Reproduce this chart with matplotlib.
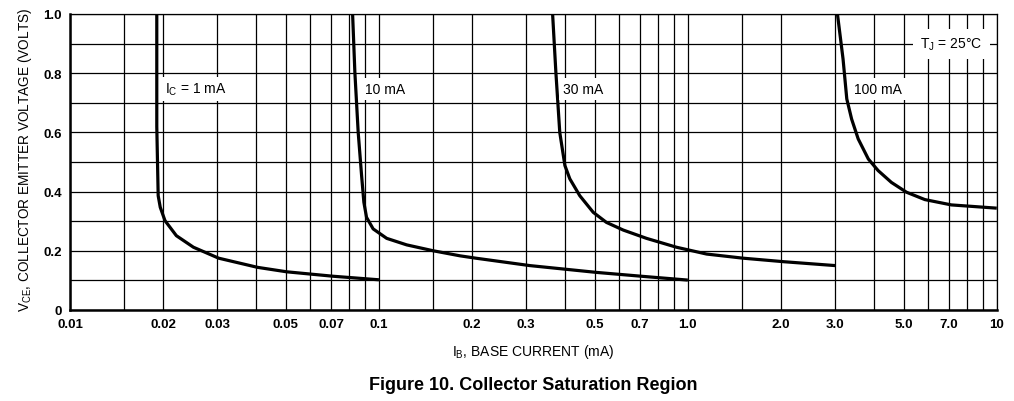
import matplotlib
matplotlib.use('Agg')
import matplotlib.pyplot as plt

plt.rcParams['font.family'] = ['Liberation Sans', 'DejaVu Sans']
plt.rcParams['mathtext.default'] = 'regular'

# curves (IB in mA, VCE in volts)
ib_1ma = [0.0191, 0.0191, 0.0193, 0.0196, 0.0203, 0.0221, 0.0251, 0.0303, 0.0405, 0.0503, 0.0711, 0.1]
vce_1ma = [1.0, 0.62, 0.386, 0.347, 0.302, 0.251, 0.212, 0.175, 0.144, 0.129, 0.114, 0.102]

ib_10ma = [0.0822, 0.0836, 0.0857, 0.0879, 0.0894, 0.0912, 0.0958, 0.106, 0.123, 0.150, 0.183,
           0.206, 0.308, 0.506, 0.726, 1.0]
vce_10ma = [1.0, 0.803, 0.600, 0.454, 0.364, 0.313, 0.274, 0.242, 0.220, 0.200, 0.183,
            0.175, 0.150, 0.127, 0.113, 0.101]

ib_30ma = [0.365, 0.374, 0.385, 0.400, 0.415, 0.447, 0.494, 0.545, 0.618, 0.735, 0.919, 1.15, 1.51, 2.05, 3.0]
vce_30ma = [1.0, 0.803, 0.600, 0.488, 0.443, 0.386, 0.330, 0.296, 0.270, 0.242, 0.212, 0.189, 0.175, 0.163, 0.150]

ib_100ma = [3.05, 3.18, 3.27, 3.39, 3.56, 3.84, 4.13, 4.56, 5.10, 5.85, 7.13, 10.0]
vce_100ma = [1.0, 0.848, 0.713, 0.645, 0.578, 0.510, 0.471, 0.431, 0.398, 0.373, 0.355, 0.344]

curve_labels = ['$I_C$ = 1 mA', '10 mA', '30 mA', '100 mA']
label_x = [0.0203, 0.0901, 0.395, 3.44]

xtick_vals = [0.01, 0.02, 0.03, 0.05, 0.07, 0.1, 0.2, 0.3, 0.5, 0.7, 1.0, 2.0, 3.0, 5.0, 7.0, 10]
xtick_text = ['0.01', '0.02', '0.03', '0.05', '0.07', '0.1', '0.2', '0.3', '0.5', '0.7',
              '1.0', '2.0', '3.0', '5.0', '7.0', '10']
xminor_vals = [0.015, 0.04, 0.06, 0.08, 0.09, 0.15, 0.4, 0.6, 0.8, 0.9, 1.5, 4, 6, 8, 9]
ytick_vals = [0, 0.2, 0.4, 0.6, 0.8, 1.0]
ytick_text = ['0', '0.2', '0.4', '0.6', '0.8', '1.0']
yminor_vals = [0.1, 0.3, 0.5, 0.7, 0.9]

fig = plt.figure(figsize=(10.14, 4.02), dpi=100)
ax = fig.add_axes([0.069, 0.2264, 0.914, 0.7363])

ax.set_xscale('log')
ax.set_xlim(0.01, 10)
ax.set_ylim(0, 1.0)

ax.set_xticks(xtick_vals)
ax.set_xticklabels(xtick_text)
ax.set_xticks(xminor_vals, minor=True)
ax.set_xticklabels([], minor=True)
ax.set_yticks(ytick_vals)
ax.set_yticklabels(ytick_text)
ax.set_yticks(yminor_vals, minor=True)

ax.grid(which='both', color='black', lw=0.9)
ax.set_axisbelow(True)
ax.tick_params(which='both', length=0, labelsize=9.5, pad=6)
for t in ax.get_xticklabels() + ax.get_yticklabels():
    t.set_fontweight('bold')

for side in ['left', 'bottom']:
    ax.spines[side].set_linewidth(1.8)
for side in ['top', 'right']:
    ax.spines[side].set_linewidth(0.9)

for xs, ys in [(ib_1ma, vce_1ma), (ib_10ma, vce_10ma), (ib_30ma, vce_30ma), (ib_100ma, vce_100ma)]:
    ax.plot(xs, ys, color='black', lw=2.3, solid_capstyle='butt', solid_joinstyle='round', zorder=3)

for lbl, lx in zip(curve_labels, label_x):
    ax.text(lx, 0.747, lbl, fontsize=10, va='center', ha='left', zorder=4,
            bbox=dict(facecolor='white', edgecolor='none', pad=3))

ax.text(5.66, 0.899, '$T_J$ = 25°C', fontsize=10, va='center', ha='left', zorder=4,
        bbox=dict(facecolor='white', edgecolor='none', pad=5))

ax.set_xlabel('$I_B$, BASE CURRENT (mA)', fontsize=10, va='center')
ax.xaxis.set_label_coords(0.5, -0.1385)
ax.set_ylabel('$V_{CE}$, COLLECTOR EMITTER VOLTAGE (VOLTS)', fontsize=9.8, va='center')
ax.yaxis.set_label_coords(-0.0485, 0.51)

fig.text(0.526, 0.042, 'Figure 10. Collector Saturation Region', fontsize=13,
         fontweight='bold', ha='center', va='center')

fig.savefig('out.png', dpi=100)
